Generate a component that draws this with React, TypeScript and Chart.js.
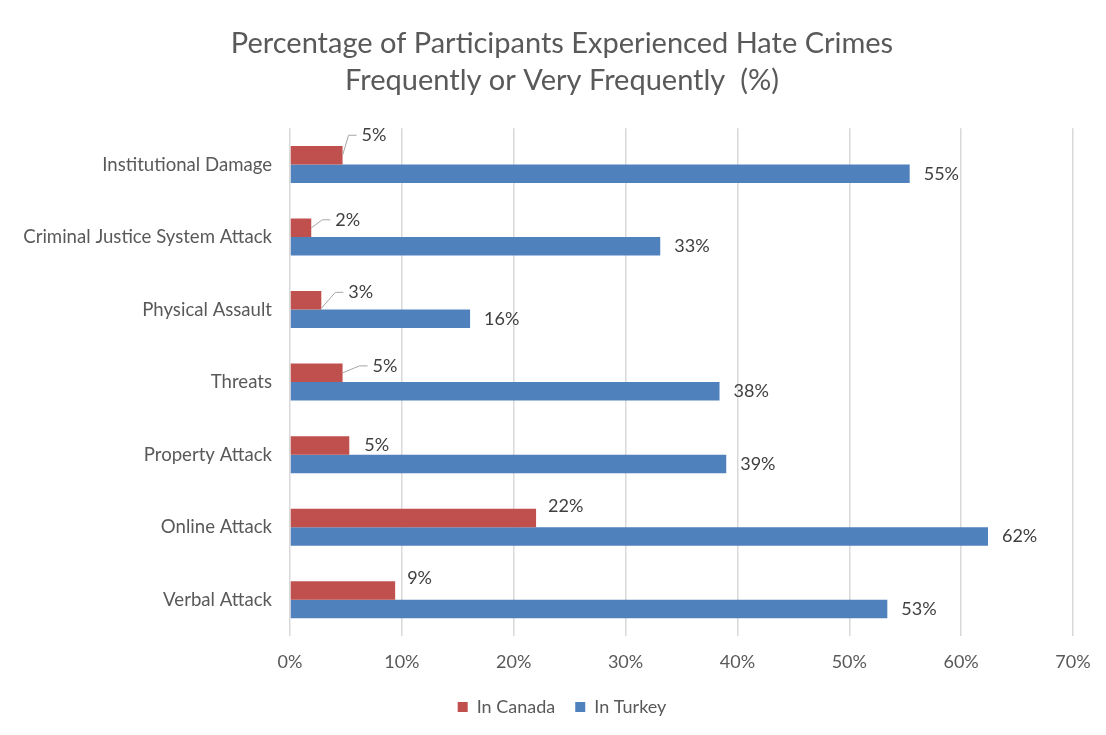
import React, { useEffect, useRef } from "react";
import { Chart, registerables } from "chart.js";

Chart.register(...registerables);

const categories = [
  "Institutional Damage",
  "Criminal Justice System Attack",
  "Physical Assault",
  "Threats",
  "Property Attack",
  "Online Attack",
  "Verbal Attack",
];
const canadaValues = [4.7, 1.9, 2.8, 4.7, 5.3, 22.0, 9.4];
const turkeyValues = [55.4, 33.1, 16.1, 38.4, 39.0, 62.4, 53.4];
const xTicks = [0, 10, 20, 30, 40, 50, 60, 70];
const seriesNames = ["In Canada", "In Turkey"];

const FONT = "Lato, 'Open Sans', sans-serif";
const TEXT = "#595959";
const LABEL = "#404040";

// label layout for Canada values: [dx, dy, leader]
const canadaLabelLayout: Array<[number, number, boolean]> = [
  [19, -20, true],
  [24, -8, true],
  [27, -8, true],
  [30, -7, true],
  [15, 0, false],
  [12, -12, false],
  [12, -12, false],
];

const labelPlugin = {
  id: "valueLabels",
  afterDatasetsDraw(chart: any) {
    const ctx = chart.ctx;
    ctx.save();
    ctx.font = `18px ${FONT}`;
    ctx.fillStyle = LABEL;
    ctx.textBaseline = "middle";
    ctx.textAlign = "left";
    chart.data.datasets.forEach((ds: any, di: number) => {
      const meta = chart.getDatasetMeta(di);
      meta.data.forEach((bar: any, i: number) => {
        const v = ds.data[i];
        const text = Math.round(v) + "%";
        const x = bar.x;
        const y = bar.y;
        if (di === 1) {
          ctx.fillText(text, x + 14, y);
        } else {
          const [dx, dy, leader] = canadaLabelLayout[i];
          if (leader) {
            ctx.save();
            ctx.strokeStyle = "#A6A6A6";
            ctx.lineWidth = 1;
            ctx.beginPath();
            ctx.moveTo(x, y + (i === 2 ? 8 : 0));
            ctx.lineTo(x + (dx - 13), y + dy);
            ctx.lineTo(x + dx - 5, y + dy);
            ctx.stroke();
            ctx.restore();
          }
          ctx.fillText(text, x + dx, y + dy);
        }
      });
    });
    ctx.restore();
  },
};

const W = 1108;
const H = 727;

export default function App() {
  const ref = useRef<HTMLCanvasElement>(null);
  useEffect(() => {
    if (!ref.current) return;
    const chart = new Chart(ref.current, {
      type: "bar",
      data: {
        labels: categories,
        datasets: [
          {
            label: seriesNames[0],
            data: canadaValues,
            backgroundColor: "#C0504D",
            categoryPercentage: 0.51,
            barPercentage: 1,
          },
          {
            label: seriesNames[1],
            data: turkeyValues,
            backgroundColor: "#4F81BD",
            categoryPercentage: 0.51,
            barPercentage: 1,
          },
        ],
      },
      plugins: [labelPlugin],
      options: {
        indexAxis: "y",
        animation: false,
        responsive: false,
        layout: { padding: { left: 0, right: 0, top: 11, bottom: 9 } },
        scales: {
          x: {
            min: 0,
            max: 70,
            afterBuildTicks: (scale: any) => {
              scale.ticks = xTicks.map((v) => ({ value: v }));
            },
            afterFit: (scale: any) => {
              scale.height = 42;
            },
            ticks: {
              callback: (v: any) => v + "%",
              color: TEXT,
              font: { family: FONT, size: 18 },
              padding: 15,
            },
            grid: { color: "#D9D9D9", lineWidth: 1.5, drawTicks: false },
            border: { display: false },
          },
          y: {
            afterFit: (scale: any) => {
              scale.width = 282;
            },
            ticks: {
              color: TEXT,
              font: { family: FONT, size: 18.6 },
              padding: 18,
            },
            grid: { display: false, drawTicks: false },
            border: { display: false },
          },
          yRight: {
            type: "linear",
            position: "right",
            display: true,
            afterFit: (scale: any) => {
              scale.width = 43;
            },
            ticks: { display: false },
            grid: { display: false, drawTicks: false },
            border: { display: false },
          },
        },
        plugins: {
          title: {
            display: true,
            text: [
              "Percentage of Participants Experienced Hate Crimes",
              "Frequently or Very Frequently  (%)",
            ],
            color: TEXT,
            font: { family: FONT, size: 29, weight: "normal", lineHeight: 1.28 },
            padding: { top: 6, bottom: 29 },
          },
          legend: {
            position: "bottom",
            labels: {
              color: TEXT,
              font: { family: FONT, size: 18 },
              boxWidth: 10,
              boxHeight: 10,
              padding: 20,
            },
          },
          tooltip: { enabled: false },
        },
      },
    } as any);
    return () => chart.destroy();
  }, []);
  return (
    <div
      style={{
        width: 1098,
        height: 727,
        overflow: "hidden",
        position: "relative",
      }}
    >
      <div
        style={{
          position: "absolute",
          left: -1,
          top: -1,
          width: 1120,
          height: 740,
          borderLeft: "1px solid #D9D9D9",
          borderTop: "1px solid #D9D9D9",
        }}
      />
      <canvas
        ref={ref}
        width={W}
        height={H}
        style={{ display: "block", width: W, height: H, position: "relative" }}
      />
    </div>
  );
}
